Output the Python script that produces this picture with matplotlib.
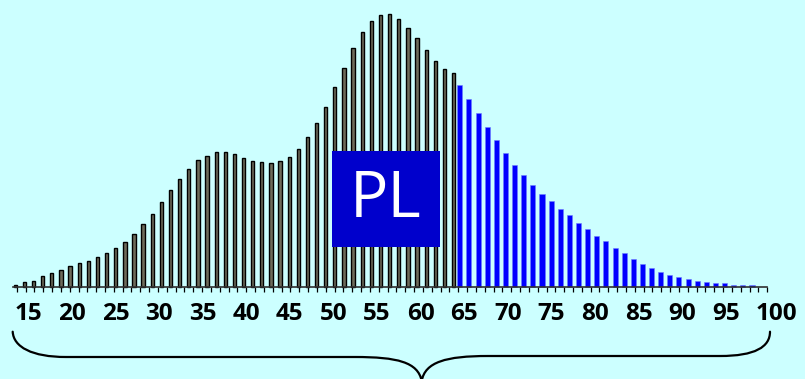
import numpy as np
import matplotlib
matplotlib.use("Agg")
import matplotlib.pyplot as plt
from matplotlib.patches import Rectangle, PathPatch
from matplotlib.path import Path

# ---------------- data ----------------
working_ages = list(range(15, 64))          # grey bars
working_values = [1.5, 4.2, 5.8, 10.2, 13.5, 16.8, 20.2, 23.2, 25.5, 29.8,
                  33.2, 38.5, 44.8, 52.5, 62.2, 72.2, 84.2, 96.2, 107.8, 117.5,
                  126.2, 130.8, 134.2, 134.2, 132.2, 128.8, 125.5, 124.5, 123.2, 125.5,
                  129.8, 137.5, 149.5, 163.5, 179.8, 199.2, 218.8, 238.2, 254.5, 265.2,
                  271.8, 272.8, 267.5, 258.8, 248.2, 236.5, 225.5, 217.5, 213.5]
senior_ages = list(range(64, 97))           # blue bars
senior_values = [201.5, 187.2, 173.2, 159.2, 146.2, 133.2, 121.2, 111.5, 101.5, 92.8,
                 85.5, 77.8, 71.2, 63.8, 57.2, 50.8, 45.2, 38.5, 33.5, 27.8,
                 22.5, 18.2, 14.5, 11.5, 9.5, 7.5, 5.2, 4.2, 3.2, 3.2,
                 1.5, 1.5, 1.5]
tick_ages = list(range(15, 101))
label_ages = list(range(15, 101, 5))
label_texts = [str(a) for a in label_ages]
box_label = "PL"

# ---------------- layout ----------------
W, H, DPI = 805, 379, 100
BG = "#ccffff"
base_px = 286.6              # baseline, pixels from top
fig = plt.figure(figsize=(W / DPI, H / DPI), dpi=DPI)
fig.patch.set_facecolor(BG)

def full_axes(z):
    ax = fig.add_axes([0, 0, 1, 1], zorder=z)
    ax.patch.set_visible(False)
    for s in ax.spines.values():
        s.set_visible(False)
    ax.set_xticks([]); ax.set_yticks([])
    return ax

ylim = (-(H - base_px), base_px)

# bars
bar_step, bar_x0 = 9.13, 15.3
axb = full_axes(1)
axb.set_xlim(15 - bar_x0 / bar_step, 15 + (W - bar_x0) / bar_step)
axb.set_ylim(*ylim)
axb.bar(working_ages, working_values, width=0.36, bottom=0,
        color="#6e6b5b", edgecolor="#000000", linewidth=1.0)
blue_shift = -0.31
axb.bar(np.array(senior_ages) + blue_shift, senior_values, width=0.55, bottom=0,
        color="#0000ff", edgecolor="#6f7cff", linewidth=0.4)

# axis line and ticks
tick_step, tick_x0 = 8.83, 16.7
axt = full_axes(2)
axt.set_xlim(15 - tick_x0 / tick_step, 15 + (W - tick_x0) / tick_step)
axt.set_ylim(*ylim)
axt.spines["bottom"].set_visible(True)
axt.spines["bottom"].set_position(("data", 0))
axt.spines["bottom"].set_bounds(15 - 4 / tick_step, 100)
axt.spines["bottom"].set_color("#303030")
axt.spines["bottom"].set_linewidth(1.2)
axt.set_xticks(tick_ages)
axt.tick_params(axis="x", direction="out", length=3.5, width=0.9, color="#000000",
                labelbottom=False)

# labels
lab_step, lab_x0 = 8.72, 14.5
axl = full_axes(3)
axl.set_xlim(15 - lab_x0 / lab_step, 15 + (W - lab_x0) / lab_step)
axl.set_ylim(H, 0)
for a, t in zip(label_ages, label_texts):
    axl.text(a, 314.5, t, ha="left", va="center", fontsize=17.5,
             family=["Open Sans", "DejaVu Sans"], fontweight="bold", color="#000000")

# overlay: box and brace (pixel coordinates)
axo = full_axes(4)
axo.set_xlim(0, W)
axo.set_ylim(H, 0)
axo.add_patch(Rectangle((332, 151), 108, 96, facecolor="#0000cc", edgecolor="none"))
axo.text(386, 200, box_label, ha="center", va="center", fontsize=46,
         family=["Open Sans", "DejaVu Sans"], color="white")

verts = [(12.7, 331.7), (13.5, 347), (32, 357), (66, 357),
         (355, 357),
         (397, 357), (418, 362), (421.7, 381),
         (425, 362), (446, 356), (488, 356),
         (720, 356),
         (755, 356), (770, 347), (770, 331.7)]
codes = [Path.MOVETO, Path.CURVE4, Path.CURVE4, Path.CURVE4,
         Path.LINETO,
         Path.CURVE4, Path.CURVE4, Path.CURVE4,
         Path.CURVE4, Path.CURVE4, Path.CURVE4,
         Path.LINETO,
         Path.CURVE4, Path.CURVE4, Path.CURVE4]
axo.add_patch(PathPatch(Path(verts, codes), facecolor="none", edgecolor="#000000",
                        linewidth=1.6, capstyle="round"))

fig.savefig("out.png", dpi=DPI, facecolor=BG)
